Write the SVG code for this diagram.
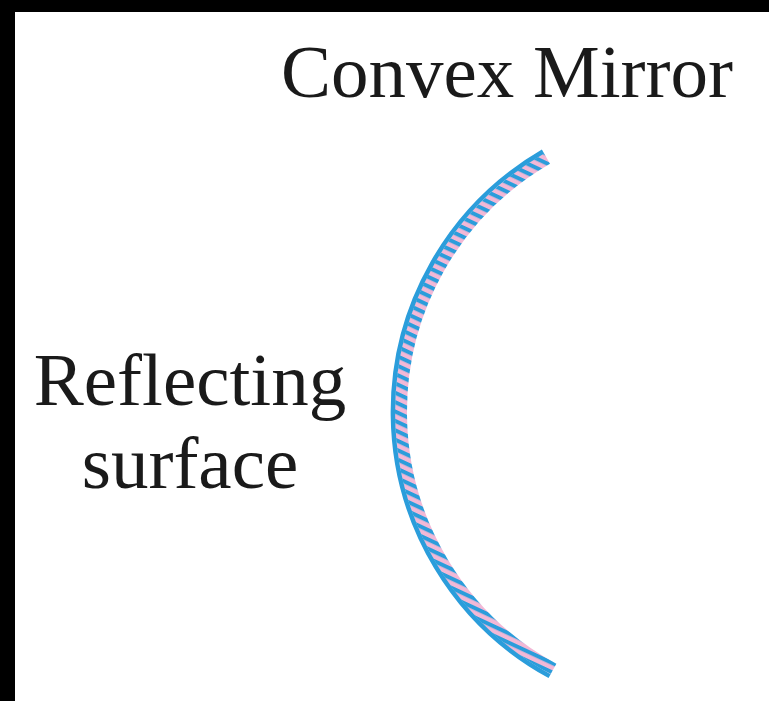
<svg xmlns="http://www.w3.org/2000/svg" width="769" height="701" viewBox="0 0 769 701">
<style>
.lbl{font-family:"Liberation Serif","Times New Roman",serif;font-size:75px;fill:#1a1a1a;text-anchor:middle}
</style>
<defs>
<pattern id="hatch" patternUnits="userSpaceOnUse" width="40" height="8.5" patternTransform="rotate(25)">
<rect x="0" y="0" width="40" height="8.5" fill="#f2b8d6"/>
<rect x="0" y="0" width="40" height="4" fill="#2b9ddb"/>
</pattern>
</defs>
<rect x="0" y="0" width="769" height="701" fill="#ffffff"/>
<g id="frame">
<rect x="0" y="0" width="769" height="12" fill="#000000"/>
<rect x="0" y="0" width="15" height="701" fill="#000000"/>
</g>
<g id="title"><text class="lbl" x="507" y="97">Convex Mirror</text></g>
<g id="label"><text class="lbl" x="190" y="405">Reflecting</text><text class="lbl" x="190" y="488">surface</text></g>
<g id="mirror">
<path d="M547,158.5 A293,293 0 0 0 553.5,669.1" fill="none" stroke="url(#hatch)" stroke-width="12"/>
<path d="M543,151.5 A301,301 0 0 0 549.6,676.1" fill="none" stroke="#2b9ddb" stroke-width="4.5"/>
</g>
</svg>
